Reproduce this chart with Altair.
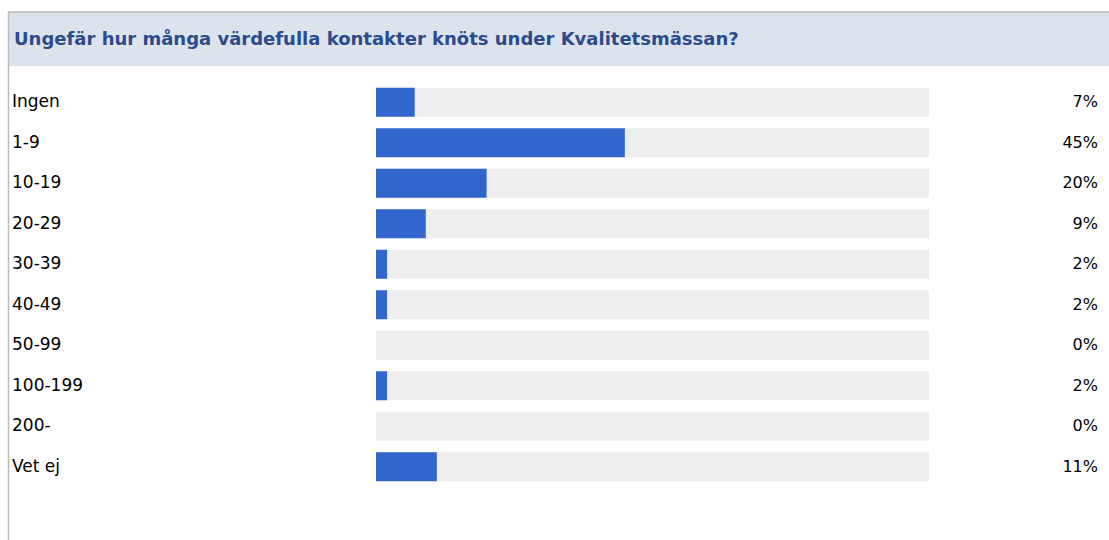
import altair as alt
import pandas as pd

categories = ["Ingen", "1-9", "10-19", "20-29", "30-39", "40-49", "50-99", "100-199", "200-", "Vet ej"]
values = [7, 45, 20, 9, 2, 2, 0, 2, 0, 11]
pct_labels = ["7%", "45%", "20%", "9%", "2%", "2%", "0%", "2%", "0%", "11%"]
title_text = "Ungefär hur många värdefulla kontakter knöts under Kvalitetsmässan?"

df = pd.DataFrame({"cat": categories, "val": values, "full": [100] * len(categories), "pct": pct_labels})

W, H = 1109, 540

y_enc = alt.Y("cat:N", sort=categories, axis=None,
              scale=alt.Scale(range=[82, 487], paddingInner=0.284, paddingOuter=0.142))
x_scale = alt.Scale(domain=[0, 100], range=[376, 929])

base = alt.Chart(df)

bg = base.mark_bar(color="#EEEEEE").encode(
    x=alt.X("full:Q", scale=x_scale, axis=None), y=y_enc)
fg = base.mark_bar(color="#3366CC").encode(
    x=alt.X("val:Q", scale=x_scale, axis=None), y=y_enc)
labels = base.mark_text(align="left", baseline="middle", font="DejaVu Sans", fontSize=17, color="#000000").encode(
    x=alt.value(12), y=y_enc, text="cat:N")
pcts = base.mark_text(align="right", baseline="middle", font="DejaVu Sans", fontSize=16, color="#000000").encode(
    x=alt.value(1098), y=y_enc, text="pct:N")

hdr_df = pd.DataFrame({"t": [title_text]})
hdr = alt.Chart(hdr_df).mark_rect(color="#DCE3ED").encode(
    x=alt.value(8), x2=alt.value(W), y=alt.value(12), y2=alt.value(66))
top_line = alt.Chart(hdr_df).mark_rule(color="#BBBBBB", strokeWidth=1.5).encode(
    x=alt.value(8), x2=alt.value(W), y=alt.value(12))
left_line = alt.Chart(hdr_df).mark_rule(color="#BBBBBB", strokeWidth=1.5).encode(
    x=alt.value(8.5), y=alt.value(12), y2=alt.value(H))
title = alt.Chart(hdr_df).mark_text(align="left", baseline="middle", font="DejaVu Sans", fontSize=18,
                                    fontWeight="bold", color="#2B4B8C").encode(
    x=alt.value(14), y=alt.value(40), text="t:N")

chart = alt.layer(hdr, top_line, left_line, title, bg, fg, labels, pcts).properties(
    width=W, height=H, autosize=alt.AutoSizeParams(type="none"), padding=0, background="white"
).configure_view(stroke=None)

chart.save("out.html", embed_options={"renderer": "svg", "actions": False})
